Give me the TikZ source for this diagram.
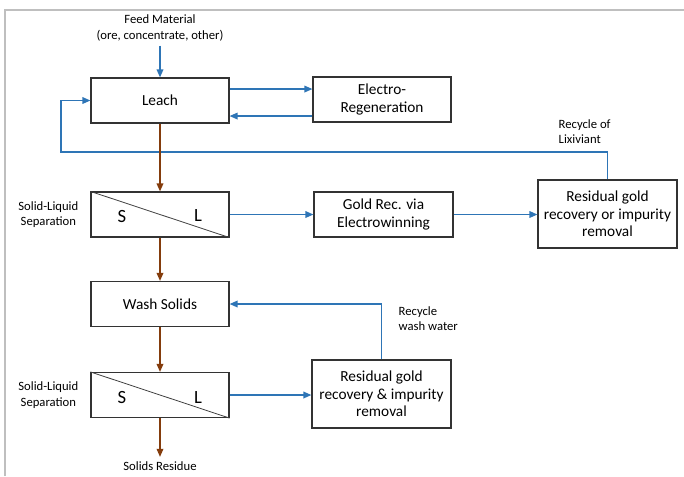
\documentclass[tikz,border=0pt]{standalone}
\usepackage{fontspec}
\setmainfont{Carlito}
\usetikzlibrary{arrows.meta,positioning}
\definecolor{flowblue}{HTML}{2E75B6}
\definecolor{solidbrown}{HTML}{843C0C}
\definecolor{framegray}{HTML}{BFBFBF}
\begin{document}
\begin{tikzpicture}[x=0.75pt, y=-0.75pt,
        box/.style={draw=black!80, line width=0.9pt, minimum width=103.5pt, minimum height=33.75pt, align=center, font=\fontsize{11.5}{13}\selectfont},
        tallbox/.style={box, minimum width=104.25pt, minimum height=51pt},
        note/.style={align=center, font=\fontsize{9.5}{11.5}\selectfont},
        phase/.style={font=\fontsize{14}{16}\selectfont},
        liquor/.style={draw=flowblue, line width=1pt, -{Triangle[length=6pt,width=5pt]}},
        solids/.style={draw=solidbrown, line width=1pt, -{Triangle[length=6pt,width=5pt]}}]
        \useasboundingbox (0,0) rectangle (684,476);
        \draw [framegray, line width=1.2pt] (5,476) -- (5,10) -- (684,10);
        % main column
        \node [note] (feed) at (160,28) {Feed Material\\(ore, concentrate, other)};
        \node [box] (leach) at (160,100.5) {Leach};
        \node [box] (sl1) at (160,214.5) {};
        \node [box] (wash) at (160,304) {Wash Solids};
        \node [box] (sl2) at (160,395) {};
        \node [note] (residue) at (160,466) {Solids Residue};
        \draw [black!75, line width=0.6pt] (sl1.north west) -- (sl1.south east);
        \draw [black!75, line width=0.6pt] (sl2.north west) -- (sl2.south east);
        \node [phase] (s1) at (122,216) {S};
        \node [phase] (l1) at (198,216) {L};
        \node [phase] (s2) at (122,397) {S};
        \node [phase] (l2) at (198,397) {L};
        \node [note, left=5.5pt of sl1] (sep1) {Solid-Liquid\\Separation};
        \node [note, left=5.5pt of sl2] (sep2) {Solid-Liquid\\Separation};
        % side units
        \node [box] (regen) at (382,99.5) {Electro-\\Regeneration};
        \node [box, minimum width=104.25pt] (gold) at (383.5,214.5) {Gold Rec. via\\Electrowinning};
        \node [tallbox] (resid1) at (607.5,214) {Residual gold\\recovery or impurity\\removal};
        \node [tallbox] (resid2) at (381.5,394) {Residual gold\\recovery \& impurity\\removal};
        \node [note, align=left, anchor=north west] (lixlabel) at (554,115) {Recycle of\\Lixiviant};
        \node [note, align=left, anchor=north west] (washlabel) at (394,302) {Recycle\\wash water};
        \coordinate (lixturn) at (61,152);
        % liquor lines
        \draw [liquor] (feed.south) -- (leach.north);
        \draw [liquor] ([yshift=8.6pt]leach.east) -- ([yshift=8.6pt]leach.east -| regen.west);
        \draw [liquor] ([yshift=-12.4pt]regen.west) -- ([yshift=-12.4pt]regen.west -| leach.east);
        \draw [liquor] (resid1.north) |- (lixturn) |- (leach.west);
        \draw [liquor] (sl1.east) -- (gold.west);
        \draw [liquor] (gold.east) -- (gold.east -| resid1.west);
        \draw [liquor] (sl2.east) -- (sl2.east -| resid2.west);
        \draw [liquor] (resid2.north) |- (wash.east);
        % solids lines
        \draw [solids] (leach.south) -- (sl1.north);
        \draw [solids] (sl1.south) -- (wash.north);
        \draw [solids] (wash.south) -- (sl2.north);
        \draw [solids] (sl2.south) -- (residue.north);
    \end{tikzpicture}
\end{document}
